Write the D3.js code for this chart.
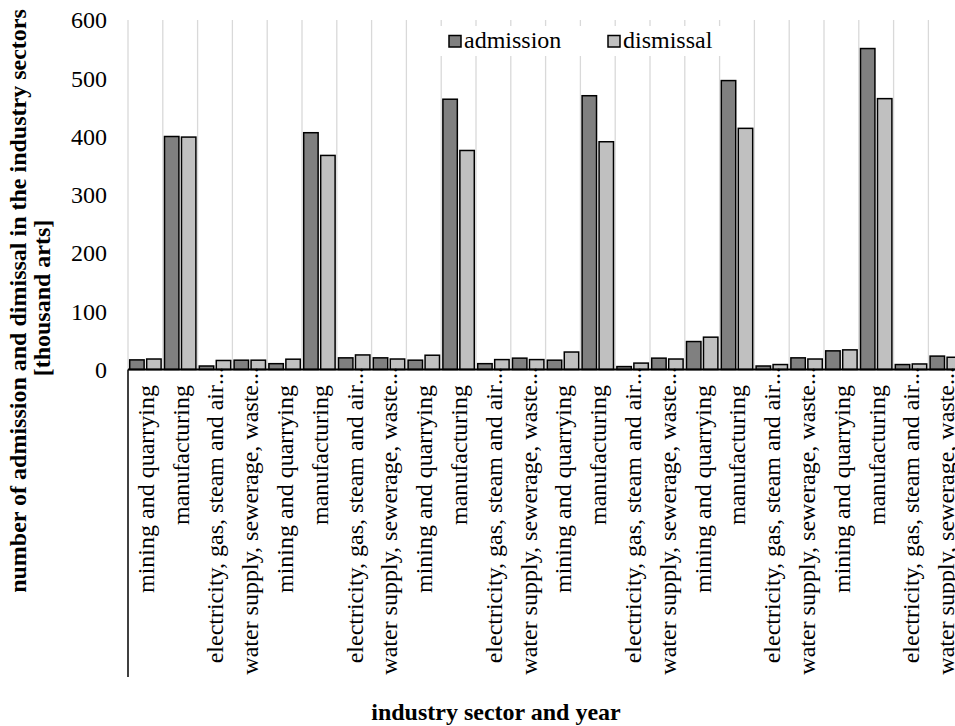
<!DOCTYPE html>
<html>
<head>
<meta charset="utf-8">
<script src="https://cdn.jsdelivr.net/npm/d3@7/dist/d3.min.js"></script>
<style>
  body { margin: 0; background: #fff; }
  svg { display: block; }
</style>
</head>
<body>
<div id="chart"></div>
<script>
(function (d3) {
  'use strict';

  // sector labels, repeated once per year (years are not printed on the chart)
  const sectors = ['mining and quarrying', 'manufacturing',
                   'electricity, gas, steam and air...', 'water supply, sewerage, waste...'];
  const groupCount = 6;
  const series = ['admission', 'dismissal'];
  const admission = [16.5, 400, 6, 16, 10, 406.5, 20, 20, 16, 464, 10, 19.5,
                     16, 470, 5, 19.5, 48, 496, 6, 20, 32, 551, 8.5, 23];
  const dismissal = [18, 399, 15.5, 16, 17.7, 367.5, 25, 18, 24.5, 376, 17, 17,
                     30, 391, 11, 18, 55.5, 414, 8.5, 18, 33.7, 465, 9.5, 21];
  const yTicks = [0, 100, 200, 300, 400, 500, 600];

  var width = 955,
      height = 726,
      left = 128,
      bandW = 34.8,
      top = 20,
      bottom = 369.5,
      font = "'Liberation Serif'";

  var cats = d3.range(groupCount).flatMap(function (g) {
    return sectors.map(function (s, i) { return { key: g * sectors.length + i, label: s }; });
  });
  var data = cats.map(function (c, i) {
    return { key: c.key, label: c.label, admission: admission[i], dismissal: dismissal[i] };
  });

  var x = d3.scaleBand()
      .domain(cats.map(function (c) { return c.key; }))
      .range([left, left + bandW * cats.length])
      .paddingInner(0).paddingOuter(0);

  var xs = d3.scaleBand()
      .domain(series)
      .range([0, x.bandwidth()])
      .paddingInner(0.15)
      .paddingOuter(0.1);

  var y = d3.scaleLinear().domain([0, 600]).range([bottom, top]);

  var fills = { admission: '#808080', dismissal: '#c0c0c0' };

  var svg = d3.select('#chart').append('svg')
      .attr('width', width)
      .attr('height', height);

  svg.append('rect').attr('width', width).attr('height', height).attr('fill', '#fff');

  function label(sel, size, weight) {
    return sel.style('font-family', font)
        .style('font-size', size + 'px')
        .style('font-weight', weight || 'normal')
        .attr('fill', '#000');
  }

  // vertical gridlines at category boundaries
  var bounds = d3.range(cats.length + 1).map(function (i) { return left + i * bandW; });
  svg.append('g').selectAll('line').data(bounds).enter()
      .append('line')
        .attr('x1', function (d) { return d; })
        .attr('x2', function (d) { return d; })
        .attr('y1', y(600))
        .attr('y2', bottom)
        .attr('stroke', '#d9d9d9')
        .attr('stroke-width', 1.3);

  // y tick labels (no axis line)
  svg.append('g').selectAll('text').data(yTicks).enter()
      .append('text')
        .attr('x', 107)
        .attr('y', function (d) { return y(d); })
        .attr('dy', '0.35em')
        .attr('text-anchor', 'end')
        .call(label, 24)
        .text(function (d) { return d; });

  // legend (white box hides the gridlines behind it)
  var legend = svg.append('g');
  legend.append('rect').attr('x', 440).attr('y', 26).attr('width', 282).attr('height', 30).attr('fill', '#fff');
  var legendX = { admission: 449, dismissal: 608 };
  series.forEach(function (s) {
    legend.append('rect')
        .attr('x', legendX[s]).attr('y', 35.5)
        .attr('width', 12).attr('height', 11.5)
        .attr('fill', fills[s]).attr('stroke', '#000').attr('stroke-width', 1.5);
    legend.append('text')
        .attr('x', legendX[s] + 15).attr('y', 48)
        .call(label, 24)
        .text(s);
  });

  // bars
  var groups = svg.append('g').selectAll('g').data(data).enter()
      .append('g')
        .attr('transform', function (d) { return 'translate(' + x(d.key) + ',0)'; });
  groups.selectAll('rect').data(function (d) {
      return series.map(function (s) { return { s: s, v: d[s] }; });
    }).enter()
      .append('rect')
        .attr('x', function (d) { return xs(d.s); })
        .attr('y', function (d) { return y(d.v); })
        .attr('width', xs.bandwidth())
        .attr('height', function (d) { return bottom - y(d.v); })
        .attr('fill', function (d) { return fills[d.s]; })
        .attr('stroke', '#000')
        .attr('stroke-width', 1.5);

  // x axis line and the left frame of the category labels
  svg.append('line')
      .attr('x1', left).attr('x2', width)
      .attr('y1', bottom).attr('y2', bottom)
      .attr('stroke', '#000').attr('stroke-width', 2);
  svg.append('line')
      .attr('x1', left).attr('x2', left)
      .attr('y1', bottom).attr('y2', 677)
      .attr('stroke', '#000').attr('stroke-width', 1.5);

  // rotated category labels; truncated ones get their dots past the text end
  var labels = svg.append('g').selectAll('g').data(cats).enter()
      .append('g')
        .attr('transform', function (d) {
          return 'translate(' + (x(d.key) + x.bandwidth() / 2) + ',385) rotate(-90)';
        });
  labels.append('text')
      .attr('dy', '0.35em')
      .attr('text-anchor', 'end')
      .call(label, 24)
      .text(function (d) { return d.label.replace(/\.\.\.$/, ''); });
  labels.filter(function (d) { return /\.\.\.$/.test(d.label); })
      .append('text')
      .attr('x', 0)
      .attr('dy', '0.35em')
      .call(label, 24)
      .text('...');

  // axis titles
  function title(tx, ty, rot, txt) {
    svg.append('text')
        .attr('transform', 'translate(' + tx + ',' + ty + ')' + (rot ? ' rotate(-90)' : ''))
        .attr('text-anchor', 'middle')
        .call(label, 24, 'bold')
        .text(txt);
  }
  title(26, 301, true, 'number of admission and dimissal in the industry sectors');
  title(50, 298, true, '[thousand arts]');
  title(496, 720, false, 'industry sector and year');
})(d3);
</script>
</body>
</html>
